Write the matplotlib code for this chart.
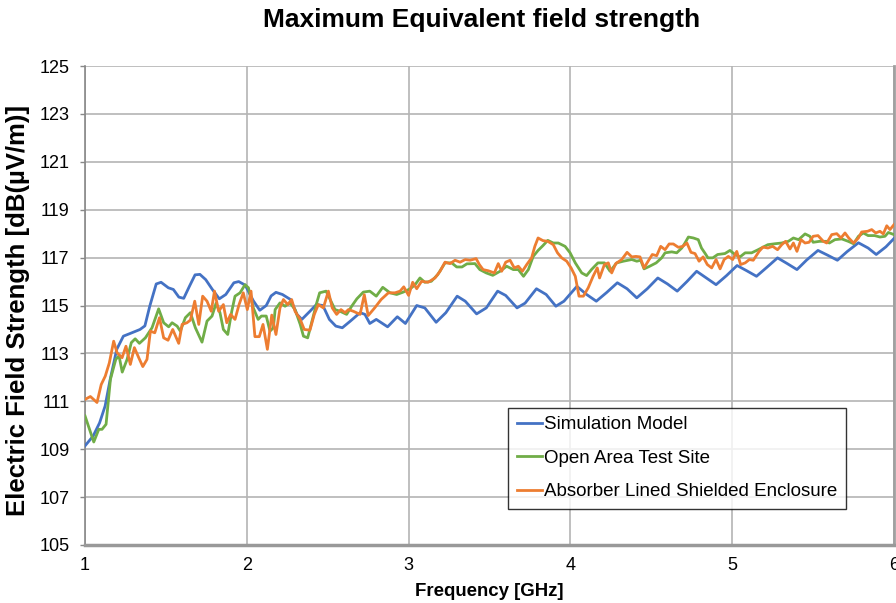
import matplotlib
matplotlib.use('Agg')
import matplotlib.pyplot as plt

plt.rcParams['font.family'] = ['Liberation Sans', 'DejaVu Sans']

# Simulation Model (frequency in GHz, field in dB(uV/m))
sim_f = [1.00, 1.05, 1.09, 1.124, 1.155, 1.196, 1.237, 1.278, 1.34, 1.37, 1.40, 1.44, 1.47,
         1.515, 1.546, 1.58, 1.61, 1.645, 1.68, 1.71, 1.746, 1.787, 1.83, 1.87, 1.92, 1.95,
         1.99, 2.04, 2.08, 2.12, 2.15, 2.18, 2.22, 2.27, 2.31, 2.34, 2.39, 2.43, 2.47, 2.51,
         2.55, 2.59, 2.64, 2.70, 2.73, 2.76, 2.80, 2.87, 2.93, 2.98, 3.05, 3.10, 3.17, 3.23,
         3.30, 3.35, 3.42, 3.48, 3.55, 3.60, 3.67, 3.72, 3.79, 3.85, 3.91, 3.96, 4.04, 4.10,
         4.16, 4.225, 4.29, 4.35, 4.41, 4.475, 4.54, 4.60, 4.66, 4.72, 4.78, 4.84, 4.90, 4.965,
         5.03, 5.09, 5.15, 5.215, 5.28, 5.34, 5.40, 5.46, 5.53, 5.59, 5.65, 5.71, 5.78, 5.84,
         5.89, 5.95, 6.00]
sim_v = [109.14, 109.55, 110.1, 110.8, 111.9, 113.17, 113.72, 113.83, 114.0, 114.15, 114.97, 115.9, 115.97,
         115.74, 115.67, 115.35, 115.3, 115.8, 116.28, 116.3, 116.08, 115.67, 115.28, 115.46, 115.95, 116.0,
         115.85, 115.2, 114.8, 115.0, 115.4, 115.55, 115.46, 115.25, 114.63, 114.42, 114.76, 115.04, 115.0, 114.42,
         114.14, 114.07, 114.35, 114.7, 114.63, 114.25, 114.42, 114.11, 114.53, 114.25, 115.0, 114.9, 114.3, 114.7,
         115.39, 115.18, 114.65, 114.9, 115.6, 115.42, 114.9, 115.1, 115.7, 115.46, 114.97, 115.18, 115.8, 115.46,
         115.18, 115.55, 115.95, 115.7, 115.32, 115.7, 116.15, 115.9, 115.6, 116.0, 116.43, 116.15, 115.87, 116.25,
         116.67, 116.45, 116.22, 116.6, 116.99, 116.75, 116.5, 116.9, 117.3, 117.1, 116.89, 117.25, 117.62, 117.4,
         117.13, 117.45, 117.8]

# Open Area Test Site
oats_f = [1.00, 1.054, 1.085, 1.105, 1.13, 1.157, 1.19, 1.21, 1.23, 1.26, 1.286, 1.31, 1.336, 1.373,
          1.414, 1.455, 1.486, 1.517, 1.538, 1.569, 1.589, 1.62, 1.651, 1.682, 1.723, 1.754, 1.785,
          1.81, 1.834, 1.855, 1.882, 1.907, 1.927, 1.958, 1.989, 2.01, 2.04, 2.07, 2.09, 2.12, 2.143,
          2.164, 2.175, 2.205, 2.236, 2.267, 2.298, 2.33, 2.35, 2.376, 2.40, 2.432, 2.45, 2.49, 2.51,
          2.545, 2.576, 2.617, 2.648, 2.68, 2.72, 2.76, 2.80, 2.84, 2.885, 2.926, 2.967, 3.01, 3.04,
          3.07, 3.10, 3.14, 3.18, 3.225, 3.266, 3.297, 3.33, 3.36, 3.41, 3.44, 3.48, 3.52, 3.565,
          3.606, 3.647, 3.678, 3.71, 3.74, 3.77, 3.80, 3.83, 3.86, 3.894, 3.925, 3.967, 3.998, 4.03,
          4.07, 4.10, 4.13, 4.17, 4.21, 4.245, 4.286, 4.327, 4.379, 4.41, 4.434, 4.455, 4.49, 4.53,
          4.564, 4.585, 4.626, 4.657, 4.688, 4.708, 4.729, 4.76, 4.79, 4.81, 4.83, 4.85, 4.88, 4.91,
          4.955, 4.986, 5.017, 5.048, 5.08, 5.12, 5.16, 5.22, 5.265, 5.306, 5.347, 5.378, 5.41, 5.45,
          5.48, 5.50, 5.54, 5.584, 5.60, 5.635, 5.677, 5.717, 5.75, 5.78, 5.81, 5.84, 5.88, 5.913,
          5.944, 5.965, 6.00]
oats_v = [110.39, 109.30, 109.83, 109.83, 110.04, 111.92, 112.75, 112.9, 112.22, 112.75, 113.45, 113.61, 113.42, 113.65,
          114.07, 114.86, 114.28, 114.11, 114.28, 114.14, 113.93, 114.49, 114.7, 114.07, 113.47, 114.35, 114.56,
          115.1, 114.7, 114.0, 113.79, 114.76, 115.39, 115.53, 115.87, 115.74, 114.9, 114.42, 114.56, 114.56, 113.93,
          114.07, 114.83, 115.11, 114.97, 115.11, 114.83, 114.21, 113.72, 113.65, 114.28, 115.11, 115.53, 115.6, 115.32,
          114.83, 114.76, 114.63, 114.97, 115.28, 115.56, 115.6, 115.39, 115.76, 115.53, 115.46, 115.56, 115.7, 115.87,
          116.15, 115.97, 116.01, 116.29, 116.78, 116.78, 116.61, 116.61, 116.74, 116.75, 116.5, 116.36, 116.26, 116.43,
          116.64, 116.5, 116.5, 116.22, 116.5, 117.05, 117.3, 117.5, 117.72, 117.61, 117.61, 117.47, 117.2, 116.78,
          116.36, 116.25, 116.5, 116.78, 116.78, 116.43, 116.78, 116.85, 116.92, 116.85, 116.89, 116.53, 116.64, 116.78,
          116.99, 117.2, 117.24, 117.2, 117.4, 117.61, 117.86, 117.82, 117.75, 117.4, 117.2, 116.99, 116.99, 117.13,
          117.17, 117.3, 117.13, 117.03, 117.2, 117.2, 117.33, 117.54, 117.58, 117.61, 117.68, 117.82, 117.75, 117.99,
          117.89, 117.64, 117.68, 117.68, 117.61, 117.75, 117.78, 117.68, 117.58, 117.89, 118.03, 117.92, 117.92, 117.86,
          117.89, 118.05, 117.96]

# Absorber Lined Shielded Enclosure
alse_f = [1.00, 1.033, 1.074, 1.10, 1.125, 1.15, 1.177, 1.198, 1.229, 1.253, 1.28, 1.305, 1.332, 1.357,
          1.383, 1.404, 1.431, 1.46, 1.486, 1.513, 1.542, 1.579, 1.60, 1.63, 1.651, 1.678, 1.703, 1.727,
          1.754, 1.78, 1.80, 1.826, 1.855, 1.876, 1.90, 1.927, 1.952, 1.978, 2.003, 2.026, 2.05, 2.077,
          2.10, 2.127, 2.154, 2.18, 2.205, 2.226, 2.253, 2.277, 2.298, 2.33, 2.355, 2.39, 2.417, 2.442,
          2.473, 2.504, 2.528, 2.555, 2.582, 2.607, 2.628, 2.658, 2.70, 2.726, 2.75, 2.79, 2.83, 2.875,
          2.916, 2.947, 2.97, 3.00, 3.025, 3.05, 3.08, 3.12, 3.163, 3.194, 3.225, 3.256, 3.287, 3.318,
          3.35, 3.38, 3.417, 3.437, 3.46, 3.493, 3.53, 3.554, 3.575, 3.60, 3.627, 3.653, 3.678, 3.703,
          3.73, 3.76, 3.78, 3.80, 3.83, 3.86, 3.894, 3.92, 3.946, 3.977, 4.004, 4.03, 4.053, 4.08,
          4.11, 4.14, 4.166, 4.18, 4.21, 4.234, 4.255, 4.28, 4.317, 4.35, 4.379, 4.405, 4.43, 4.455,
          4.48, 4.506, 4.533, 4.558, 4.585, 4.61, 4.636, 4.667, 4.694, 4.72, 4.745, 4.77, 4.795, 4.82,
          4.846, 4.873, 4.90, 4.925, 4.95, 4.976, 5.003, 5.028, 5.052, 5.08, 5.106, 5.13, 5.166, 5.19,
          5.22, 5.25, 5.28, 5.306, 5.33, 5.357, 5.378, 5.40, 5.425, 5.45, 5.475, 5.50, 5.53, 5.563,
          5.584, 5.615, 5.646, 5.672, 5.697, 5.72, 5.75, 5.78, 5.80, 5.837, 5.862, 5.887, 5.913, 5.934,
          5.955, 5.975, 6.00]
alse_v = [111.08, 111.2, 110.95, 111.7, 112.05, 112.6, 113.51, 113.03, 112.82, 113.3, 112.54, 113.24, 112.82, 112.45,
          112.75, 113.93, 113.86, 114.49, 113.65, 113.55, 114.0, 113.42, 114.21, 114.28, 114.39, 115.18, 114.21, 115.39,
          115.18, 114.76, 115.6, 114.76, 115.04, 114.28, 114.63, 114.42, 115.04, 115.53, 114.83, 115.6, 113.7, 113.7,
          114.21, 113.17, 114.6, 113.79, 114.9, 115.25, 115.04, 115.25, 114.76, 114.42, 114.0, 113.97, 114.63, 115.04,
          114.9, 115.6, 114.9, 114.63, 114.83, 114.7, 114.83, 114.76, 114.63, 115.45, 114.58, 114.9, 115.25, 115.53,
          115.53, 115.6, 115.78, 115.42, 115.97, 115.7, 116.01, 115.97, 116.15, 116.43, 116.81, 116.75, 116.89, 116.81,
          116.92, 116.89, 116.96, 116.71, 116.5, 116.45, 116.36, 116.75, 116.43, 116.81, 116.89, 116.57, 116.64, 116.43,
          116.71, 116.99, 117.47, 117.82, 117.71, 117.68, 117.54, 117.2, 116.99, 116.85, 116.57, 116.22, 115.39, 115.39,
          115.74, 116.22, 116.57, 116.15, 116.71, 116.78, 116.36, 116.75, 116.92, 117.22, 117.03, 117.05, 117.03, 116.57,
          116.85, 117.13, 117.08, 117.47, 117.33, 117.57, 117.57, 117.43, 117.47, 117.61, 117.22, 117.17, 116.85, 117.03,
          116.71, 116.57, 116.92, 116.53, 116.92, 117.05, 116.92, 117.26, 116.71, 116.78, 116.92, 116.89, 117.26, 117.44,
          117.4, 117.47, 117.33, 117.54, 117.68, 117.36, 117.61, 117.26, 117.75, 117.61, 117.64, 117.89, 117.92, 117.68,
          117.61, 117.96, 118.0, 117.82, 118.03, 117.82, 117.61, 117.82, 118.07, 118.1, 118.17, 118.03, 118.1, 117.99,
          118.33, 118.17, 118.38]

x_ticks = [1, 2, 3, 4, 5, 6]
y_ticks = [105, 107, 109, 111, 113, 115, 117, 119, 121, 123, 125]

fig = plt.figure(figsize=(8.96, 6.03), dpi=100)
ax = fig.add_axes([0.0949, 0.0962, 0.9029, 0.7943])

ax.plot(sim_f, sim_v, color='#4472C4', lw=2.0, label='Simulation Model', zorder=3)
ax.plot(oats_f, oats_v, color='#70AD47', lw=2.0, label='Open Area Test Site', zorder=3)
ax.plot(alse_f, alse_v, color='#ED7D31', lw=2.0, label='Absorber Lined Shielded Enclosure', zorder=4)

ax.set_xlim(1, 6)
ax.set_ylim(105, 125)
ax.set_xticks(x_ticks)
ax.set_yticks(y_ticks)
ax.tick_params(axis='x', length=0, labelsize=13, pad=9)
ax.tick_params(axis='y', length=3.6, width=1, color='#888888', labelsize=13, pad=7.5)
ax.grid(True, color='#b4b4b4', lw=1.2)
ax.set_axisbelow(True)

ax.spines['top'].set_visible(False)
ax.spines['right'].set_color('#a0a0a0')
ax.spines['right'].set_linewidth(2.0)
ax.spines['left'].set_color('#888888')
ax.spines['left'].set_linewidth(1.2)
ax.spines['bottom'].set_color('#999999')
ax.spines['bottom'].set_linewidth(2.5)

ax.set_xlabel('Frequency [GHz]', fontsize=13.4, fontweight='bold')
ax.xaxis.set_label_coords(0.5, -0.080)
ax.set_ylabel('Electric Field Strength [dB(µV/m)]', fontsize=18.5, fontweight='bold')
ax.yaxis.set_label_coords(-0.068, 0.489)
fig.suptitle('Maximum Equivalent field strength', x=0.538, y=0.967, va='center',
             fontsize=19, fontweight='bold')

leg = ax.legend(loc='upper left', bbox_to_anchor=(0.523, 0.287), fontsize=13.5, frameon=True,
                fancybox=False, edgecolor='black', handlelength=1.35, handletextpad=0.12,
                labelspacing=0.88, borderpad=0.45, borderaxespad=0)
leg.get_frame().set_linewidth(1.0)

fig.savefig('out.png', dpi=100)
